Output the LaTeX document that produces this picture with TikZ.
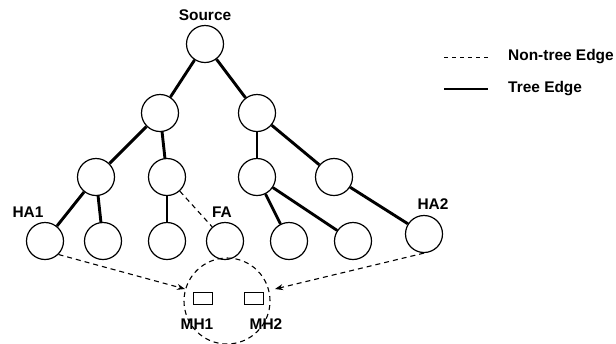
\documentclass[tikz,border=0pt]{standalone}
\usepackage{fontspec}
\setmainfont{Liberation Sans}
\usetikzlibrary{arrows.meta}
\begin{document}
\begin{tikzpicture}[x=1bp,y=-1bp,
  vertex/.style={circle,draw,line width=1.2bp,minimum size=37bp,inner sep=0pt},
  treeedge/.style={line width=2.9bp},
  nontree/.style={line width=1.1bp,dash pattern=on 5bp off 4bp},
  mh/.style={draw,line width=1bp,minimum width=19bp,minimum height=12bp,inner sep=0pt},
  lbl/.style={font=\fontsize{15.5}{18}\selectfont\bfseries,inner sep=0pt},
  tip/.style={-{Stealth[length=8bp,width=6bp]}}]
\useasboundingbox (0,0) rectangle (616,343);

% tree nodes
\node[vertex] (s)  at (205,44) {};
\node[vertex] (a)  at (160,113) {};
\node[vertex] (b)  at (257,113) {};
\node[vertex] (aa) at (96,177) {};
\node[vertex] (ab) at (167,177) {};
\node[vertex] (ba) at (257,177) {};
\node[vertex] (bb) at (334,177) {};
\node[vertex] (ha1) at (45,241) {};
\node[vertex] (l2) at (103,241) {};
\node[vertex] (l3) at (167,241) {};
\node[vertex] (fa) at (225,241) {};
\node[vertex] (l5) at (289,241) {};
\node[vertex] (l6) at (353,241) {};
\node[vertex] (ha2) at (424,234) {};

% labels
\node[lbl] (tsrc) at (205,15) {Source};
\node[lbl] (tha1) at (28,212) {HA1};
\node[lbl] (tfa) at (222,212) {FA};
\node[lbl] (tha2) at (433,204) {HA2};

% tree edges
\draw[treeedge] (s) -- (a);
\draw[treeedge] (s) -- (b);
\draw[treeedge] (a) -- (aa);
\draw[treeedge] (a) -- (ab);
\draw[treeedge] (b) -- (ba);
\draw[treeedge] (b) -- (bb);
\draw[treeedge] (aa) -- (ha1);
\draw[treeedge] (aa) -- (l2);
\draw[treeedge] (ab) -- (l3);
\draw[treeedge] (ba) -- (l5);
\draw[treeedge] (ba) -- (l6);
\draw[treeedge] (bb) -- (ha2);

% non-tree edge
\draw[nontree] (ab) -- (fa);

% foreign agent cell and mobile hosts
\node[circle,draw,nontree,minimum size=86bp,inner sep=0pt] (cell) at (227,301) {};
\node[mh] (mh1) at (202.5,298) {};
\node[mh] (mh2) at (254,298) {};
\node[lbl] (tmh1) at (197,324) {MH1};
\node[lbl] (tmh2) at (266,324) {MH2};
\coordinate (in1) at (185,289);
\coordinate (in2) at (275,289);
\draw[nontree,tip] (ha1.south east) -- (in1);
\draw[nontree,tip] (ha2.south) -- (in2);

% legend
\coordinate (d1) at (444,57);
\coordinate (d2) at (488,57);
\coordinate (t1) at (444,89);
\coordinate (t2) at (488,89);
\draw[nontree,line width=0.9bp,dash pattern=on 4bp off 4bp] (d1) -- (d2);
\draw[treeedge] (t1) -- (t2);
\node[lbl,anchor=west] (lnt) at (508,57) {Non-tree Edge};
\node[lbl,anchor=west] (lt) at (508,89) {Tree Edge};
\end{tikzpicture}
\end{document}
